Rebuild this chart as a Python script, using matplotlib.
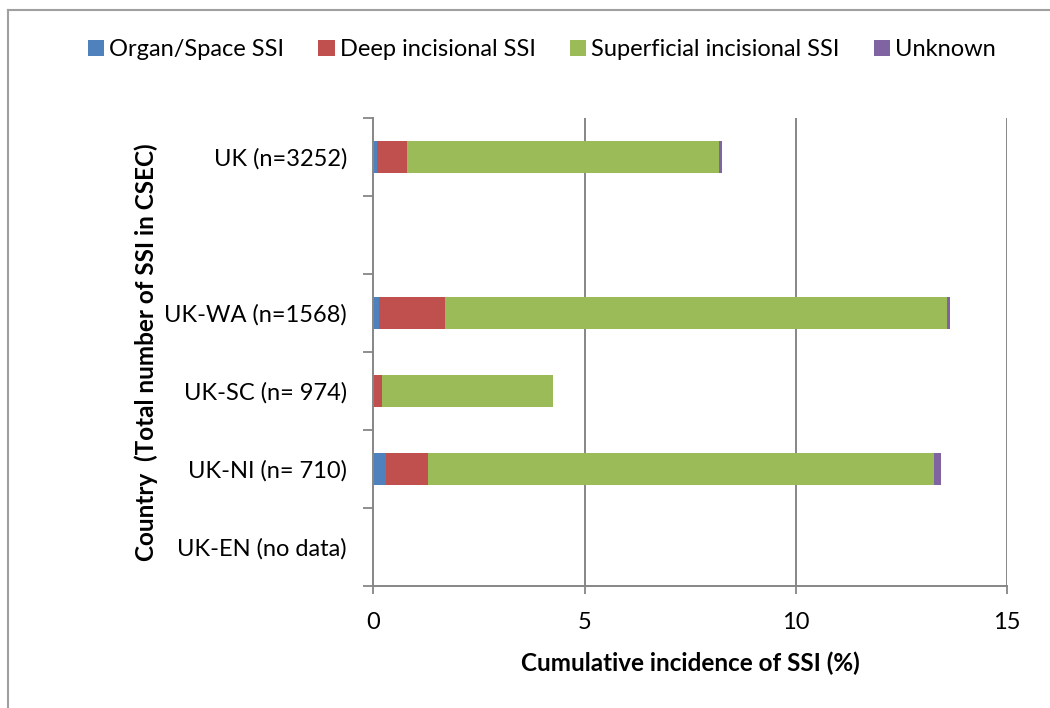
import matplotlib
matplotlib.use("Agg")
import matplotlib.pyplot as plt
from matplotlib.patches import Patch
from matplotlib.lines import Line2D

plt.rcParams['font.family'] = ['Lato', 'DejaVu Sans']

categories = ["UK-EN (no data)", "UK-NI (n= 710)", "UK-SC (n= 974)",
              "UK-WA (n=1568)", "", "UK (n=3252)"]
organ = [0, 0.30, 0, 0.12, 0, 0.09]
deep = [0, 1.00, 0.19, 1.57, 0, 0.70]
superficial = [0, 11.98, 4.07, 11.89, 0, 7.40]
unknown = [0, 0.16, 0, 0.08, 0, 0.06]

series = ["Organ/Space SSI", "Deep incisional SSI", "Superficial incisional SSI", "Unknown"]
colors = ["#4F81BD", "#C0504D", "#9BBB59", "#8064A2"]
x_ticks = [0, 5, 10, 15]

fig = plt.figure(figsize=(10.5, 7.08), dpi=100)
ax = fig.add_axes([0.3557, 0.1723, 0.6033, 0.661])

grid_c = "#868686"
ypos = list(range(len(categories)))
left = [0] * len(categories)
for vals, col in zip([organ, deep, superficial, unknown], colors):
    ax.barh(ypos, vals, left=left, height=0.41, color=col, zorder=3)
    left = [a + b for a, b in zip(left, vals)]

ax.set_xlim(0, 15)
ax.set_ylim(-0.5, len(categories) - 0.5)
ax.set_xticks(x_ticks)
ax.set_xticklabels([str(t) for t in x_ticks], fontsize=17)
ax.set_yticks(ypos)
ax.set_yticklabels(categories, fontsize=17)
ax.set_yticks([i - 0.5 for i in range(len(categories) + 1)], minor=True)
ax.tick_params(axis='y', which='major', length=0, pad=19)
ax.tick_params(axis='y', which='minor', length=7, width=1.3, color=grid_c)
ax.tick_params(axis='x', which='major', length=6, width=1.3, color=grid_c, pad=13)

for t in x_ticks[1:]:
    ax.axvline(t, color=grid_c, lw=1.4, zorder=1)

for s in ['top', 'right']:
    ax.spines[s].set_visible(False)
for s in ['left', 'bottom']:
    ax.spines[s].set_color(grid_c)
    ax.spines[s].set_linewidth(1.4)
ax.spines['left'].set_zorder(4)

ax.set_xlabel("Cumulative incidence of SSI (%)", fontsize=17.5, fontweight='bold')
ax.xaxis.set_label_coords(0.5, -0.14)
ax.set_ylabel("Country  (Total number of SSI in CSEC)", fontsize=17.5, fontweight='bold')
ax.yaxis.set_label_coords(-0.34, 0.5)

handles = [Patch(facecolor=c, edgecolor='none') for c in colors]
fig.legend(handles, series, loc='center', bbox_to_anchor=(0.516, 0.93), ncol=4,
           frameon=False, fontsize=17, handlelength=0.7, handleheight=0.7,
           handletextpad=0.2, columnspacing=1.45)

# outer frame (top and left edges visible)
fig.add_artist(Line2D([8 / 1050, 1], [1 - 10 / 708, 1 - 10 / 708], color="#A0A0A0", lw=1.5,
                      transform=fig.transFigure))
fig.add_artist(Line2D([8 / 1050, 8 / 1050], [0, 1 - 10 / 708], color="#A0A0A0", lw=1.5,
                      transform=fig.transFigure))

plt.savefig("out.png", dpi=100)
